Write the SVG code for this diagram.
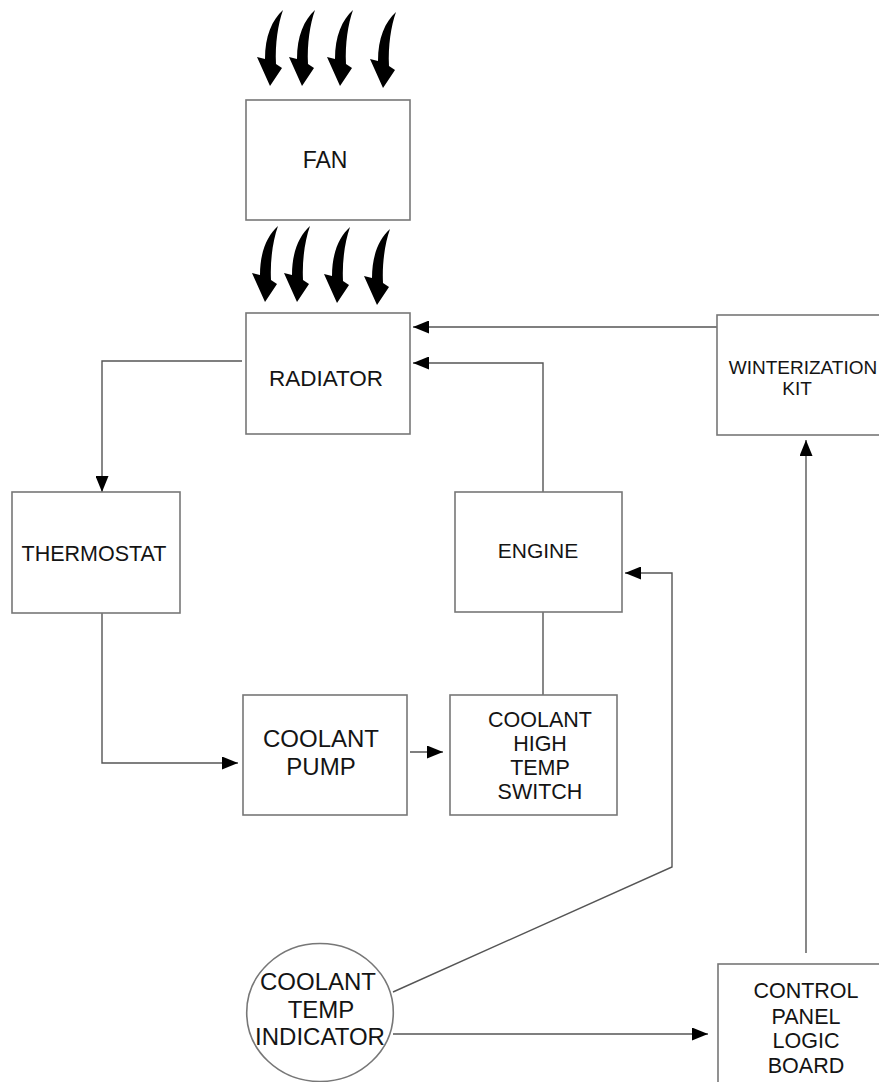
<svg xmlns="http://www.w3.org/2000/svg" width="879" height="1082" viewBox="0 0 879 1082">
<style>
.box{fill:#fff;stroke:#777;stroke-width:1.6}
.conn{fill:none;stroke:#555;stroke-width:1.4}
.t{font-family:"Liberation Sans",Arial,sans-serif;fill:#141414;text-anchor:middle}
.air{fill:#000}
</style>
<defs>
<marker id="ah" viewBox="0 0 16 13" refX="16" refY="6.5" markerWidth="16" markerHeight="13" markerUnits="userSpaceOnUse" orient="auto">
<path d="M0,0 L16,6.5 L0,13 Z" fill="#000"/>
</marker>
<path id="curl" d="M13,-76 C2,-66 -5,-50 -5,-27 L-13,-29 L0,0 L12,-18 L6,-22 C5,-42 8,-62 13,-76 Z"/>
</defs>
<rect width="879" height="1082" fill="#fff"/>

<g id="airflow-top" class="air">
<use href="#curl" x="270" y="86"/>
<use href="#curl" x="302" y="86"/>
<use href="#curl" x="340" y="86"/>
<use href="#curl" x="383" y="88"/>
</g>
<g id="airflow-mid" class="air">
<use href="#curl" x="265" y="302"/>
<use href="#curl" x="297" y="302"/>
<use href="#curl" x="337" y="303"/>
<use href="#curl" x="377" y="305"/>
</g>

<g id="connectors">
<path class="conn" d="M717,327 L413,327" marker-end="url(#ah)"/>
<path class="conn" d="M543,492 L543,363 L413,363" marker-end="url(#ah)"/>
<path class="conn" d="M242,361 L102,361 L102,492" marker-end="url(#ah)"/>
<path class="conn" d="M102,613 L102,763 L238,763" marker-end="url(#ah)"/>
<path class="conn" d="M410,752 L443,752" marker-end="url(#ah)"/>
<path class="conn" d="M543,695 L543,612"/>
<path class="conn" d="M393,992 L672,867 L672,573 L625,573" marker-end="url(#ah)"/>
<path class="conn" d="M393,1034 L708,1034" marker-end="url(#ah)"/>
<path class="conn" d="M806,953 L806,440" marker-end="url(#ah)"/>
</g>

<g id="fan">
<rect class="box" x="246" y="100" width="164" height="120"/>
<text class="t" x="325" y="168" font-size="23">FAN</text>
</g>
<g id="radiator">
<rect class="box" x="246" y="313" width="164" height="121"/>
<text class="t" x="326" y="386" font-size="22.5">RADIATOR</text>
</g>
<g id="winterization-kit">
<rect class="box" x="717" y="315" width="200" height="120"/>
<text class="t" x="803" y="374" font-size="19">WINTERIZATION</text>
<text class="t" x="797" y="395" font-size="19">KIT</text>
</g>
<g id="thermostat">
<rect class="box" x="12" y="492" width="168" height="121"/>
<text class="t" x="94" y="561" font-size="21.5">THERMOSTAT</text>
</g>
<g id="engine">
<rect class="box" x="455" y="492" width="167" height="120"/>
<text class="t" x="538" y="558" font-size="21">ENGINE</text>
</g>
<g id="coolant-pump">
<rect class="box" x="243" y="695" width="164" height="120"/>
<text class="t" x="321" y="747" font-size="24">COOLANT</text>
<text class="t" x="321" y="775" font-size="24">PUMP</text>
</g>
<g id="coolant-high-temp-switch">
<rect class="box" x="450" y="695" width="167" height="120"/>
<text class="t" x="540" y="727" font-size="21.5">COOLANT</text>
<text class="t" x="540" y="751" font-size="21.5">HIGH</text>
<text class="t" x="540" y="775" font-size="21.5">TEMP</text>
<text class="t" x="540" y="799" font-size="21.5">SWITCH</text>
</g>
<g id="coolant-temp-indicator">
<ellipse class="box" cx="320" cy="1012.5" rx="73.3" ry="69" stroke-width="1.2"/>
<text class="t" x="318" y="990" font-size="24">COOLANT</text>
<text class="t" x="321" y="1018" font-size="24">TEMP</text>
<text class="t" x="320" y="1045" font-size="24">INDICATOR</text>
</g>
<g id="control-panel-logic-board">
<rect class="box" x="718" y="964" width="200" height="150"/>
<text class="t" x="806" y="998" font-size="21.5">CONTROL</text>
<text class="t" x="806" y="1024" font-size="21.5">PANEL</text>
<text class="t" x="806" y="1048" font-size="21.5">LOGIC</text>
<text class="t" x="806" y="1073" font-size="21.5">BOARD</text>
</g>
</svg>
